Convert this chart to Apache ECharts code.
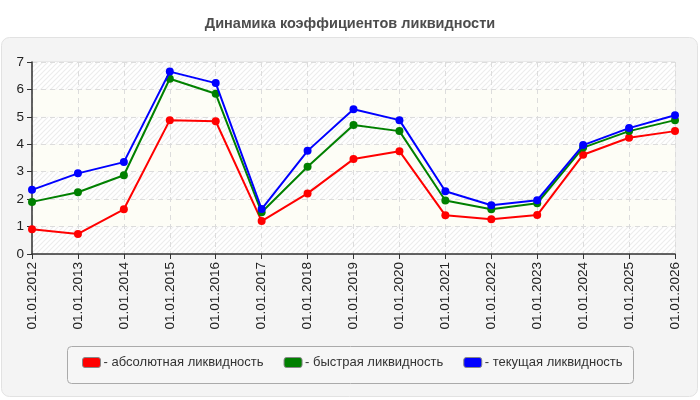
<!DOCTYPE html>
<html>
<head>
<meta charset="utf-8">
<script src="https://cdn.jsdelivr.net/npm/echarts@6/dist/echarts.min.js"></script>
<style>
  html, body { margin: 0; padding: 0; background: #fff; }
  #chart { width: 700px; height: 400px; }
</style>
</head>
<body>
<div id="chart"></div>
<script>
var dates = ['01.01.2012', '01.01.2013', '01.01.2014', '01.01.2015', '01.01.2016', '01.01.2017', '01.01.2018',
    '01.01.2019', '01.01.2020', '01.01.2021', '01.01.2022', '01.01.2023', '01.01.2024', '01.01.2025', '01.01.2026'];
var absoluteLiq = [0.90, 0.73, 1.63, 4.88, 4.84, 1.20, 2.21, 3.46, 3.75, 1.41, 1.27, 1.42, 3.62, 4.24, 4.48];
var quickLiq = [1.90, 2.25, 2.87, 6.39, 5.84, 1.52, 3.18, 4.70, 4.48, 1.95, 1.63, 1.85, 3.88, 4.48, 4.88];
var currentLiq = [2.34, 2.94, 3.35, 6.65, 6.23, 1.64, 3.76, 5.28, 4.88, 2.29, 1.78, 1.96, 3.97, 4.59, 5.06];
var seriesNames = ['абсолютная ликвидность', 'быстрая ликвидность', 'текущая ликвидность'];
var seriesColors = ['#ff0000', '#008000', '#0000ff'];

// штриховка для полос фона
function makeHatch() {
    var c = document.createElement('canvas');
    c.width = 5;
    c.height = 5;
    var ctx = c.getContext('2d');
    ctx.fillStyle = '#ffffff';
    ctx.fillRect(0, 0, 5, 5);
    ctx.strokeStyle = '#ededed';
    ctx.lineWidth = 1.2;
    ctx.beginPath();
    ctx.moveTo(-1, 6); ctx.lineTo(6, -1);
    ctx.moveTo(-1, 1); ctx.lineTo(1, -1);
    ctx.moveTo(4, 6); ctx.lineTo(6, 4);
    ctx.stroke();
    return c;
}

var chart = echarts.init(document.getElementById('chart'));

function lineSeries(idx, data) {
    return {
        name: seriesNames[idx],
        type: 'line',
        data: data,
        symbol: 'circle',
        symbolSize: 8,
        z: 3 + idx,
        lineStyle: { color: seriesColors[idx], width: 2 },
        itemStyle: { color: seriesColors[idx] },
        emphasis: { disabled: true },
        animation: false
    };
}

chart.setOption({
    animation: false,
    title: {
        text: 'Динамика коэффициентов ликвидности',
        left: 'center',
        top: 11,
        textStyle: { fontFamily: 'Liberation Sans', fontSize: 14.5, fontWeight: 'bold', color: '#4d4d4d' }
    },
    graphic: [{
        type: 'rect',
        shape: { x: 1.5, y: 37.5, width: 696, height: 359, r: 8 },
        style: { fill: '#f4f4f4', stroke: '#e2e2e2', lineWidth: 1 },
        z: -10
    }, {
        type: 'rect',
        shape: { x: 67.5, y: 346.5, width: 566, height: 37, r: 4 },
        style: { fill: '#f6f6f6', stroke: '#aaaaaa', lineWidth: 1 },
        z: -5
    }],
    legend: {
        left: 77,
        top: 351,
        itemGap: 20,
        itemWidth: 18,
        itemHeight: 10,
        icon: 'roundRect',
        formatter: '- {name}',
        itemStyle: { borderColor: '#888', borderWidth: 1 },
        textStyle: { fontFamily: 'Liberation Sans', fontSize: 13, color: '#333', padding: [0, 0, 0, -2] },
        data: seriesNames
    },
    grid: {
        left: 32,
        right: 25,
        top: 62,
        bottom: 146,
        show: true,
        borderColor: '#dddddd',
        borderWidth: 1,
        backgroundColor: 'transparent'
    },
    xAxis: {
        type: 'category',
        data: dates,
        boundaryGap: false,
        axisLine: { lineStyle: { color: '#333', width: 1.5 } },
        axisTick: { alignWithLabel: true, length: 5, lineStyle: { color: '#333' } },
        axisLabel: { rotate: 90, interval: 0, margin: 8, fontFamily: 'Liberation Sans', fontSize: 13.5, color: '#222' },
        splitLine: { show: true, lineStyle: { color: '#dcdcdc', type: [5, 4] } }
    },
    yAxis: {
        type: 'value',
        min: 0,
        max: 7,
        interval: 1,
        axisLine: { show: true, lineStyle: { color: '#333', width: 1.5 } },
        axisTick: { show: true, length: 5, lineStyle: { color: '#333' } },
        axisLabel: { margin: 8, fontFamily: 'Liberation Sans', fontSize: 13.5, color: '#222' },
        splitLine: { show: true, lineStyle: { color: '#dcdcdc', type: [5, 4] } },
        splitArea: {
            show: true,
            areaStyle: { color: [{ image: makeHatch(), repeat: 'repeat' }, '#fdfdf6'] }
        }
    },
    series: [
        lineSeries(0, absoluteLiq),
        lineSeries(1, quickLiq),
        lineSeries(2, currentLiq)
    ]
});
</script>
</body>
</html>
